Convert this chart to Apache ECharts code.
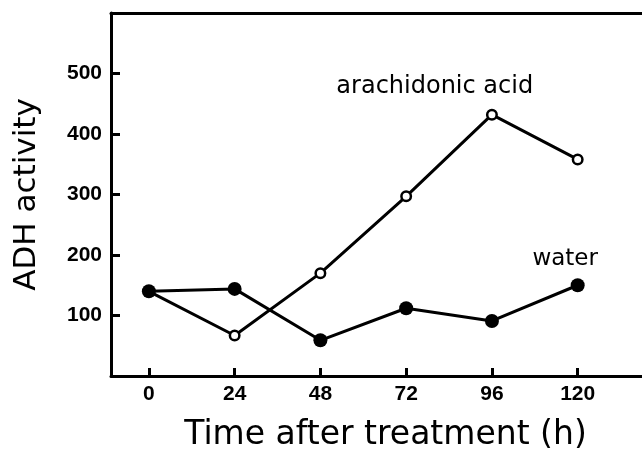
<!DOCTYPE html>
<html>
<head>
<meta charset="utf-8">
<title>ADH activity</title>
<script src="https://cdn.jsdelivr.net/npm/echarts@6/dist/echarts.min.js"></script>
<style>
	html, body { margin: 0; padding: 0; background: #fff; }
	#adhChart { width: 642px; height: 456px; }
</style>
</head>
<body>
<div id="adhChart"></div>
<script>
// hours after treatment
var hours = [0, 24, 48, 72, 96, 120];
// ADH activity, open circles
var arachidonic = [140, 67, 170, 297, 432, 358];
// ADH activity, filled circles
var water = [140, 144, 59, 112, 91, 150];
// ticks shown on the axes
var xTicks = [0, 24, 48, 72, 96, 120];
var yTicks = [100, 200, 300, 400, 500];
// where the two series names sit, in data units [h, activity]
var arachidonicLabelAt = [80, 478];
var waterLabelAt = [116.5, 194];

function pairs(xs, ys){
	var out = [];
	for(var i=0;i<xs.length;i++){
		out.push([xs[i], ys[i]]);
	}
	return out;
}

var charts = echarts.init(document.getElementById("adhChart"));
var xMin = -10.6, xMax = 138;
var tickFont = {
	fontFamily: 'Liberation Sans',
	fontWeight: 'bold',
	fontSize: 21,
	color: '#000'
};

var option = {
	backgroundColor: '#fff',
	animation: false,
	grid: {
		left: 111,
		right: 0,
		top: 13,
		bottom: 80,
		outerBoundsMode: 'none'//不让v6自动收缩绘图区
	},
	xAxis: [{
		type: 'value',
		min: xMin,
		max: xMax,
		name: 'Time after treatment (h)',
		nameLocation: 'middle',
		nameGap: 43,
		nameTextStyle: {
			fontFamily: 'DejaVu Sans',
			fontSize: 33,
			color: '#000',
			padding: [0, 0, 0, 18]
		},
		axisLine: { onZero: false, lineStyle: { color: '#000', width: 3 } },
		axisTick: { inside: true, length: 8, customValues: xTicks, lineStyle: { color: '#000', width: 3 } },
		axisLabel: Object.assign({ customValues: xTicks, margin: 8 }, tickFont),
		splitLine: { show: false }
	}, {
		// top edge of the frame only
		type: 'value',
		position: 'top',
		min: xMin,
		max: xMax,
		axisLine: { show: true, onZero: false, lineStyle: { color: '#000', width: 3 } },
		axisTick: { show: false },
		axisLabel: { show: false },
		splitLine: { show: false }
	}],
	yAxis: {
		type: 'value',
		min: 0,
		max: 600,
		name: 'ADH activity',
		nameLocation: 'middle',
		nameGap: 69,
		nameTextStyle: {
			fontFamily: 'DejaVu Sans',
			fontSize: 31,
			color: '#000'
		},
		axisLine: { show: true, onZero: false, lineStyle: { color: '#000', width: 3 } },
		axisTick: { show: true, inside: true, length: 9, customValues: yTicks, lineStyle: { color: '#000', width: 3 } },
		axisLabel: Object.assign({ customValues: yTicks, margin: 9 }, tickFont),
		splitLine: { show: false }
	},
	series: [{
		name: 'arachidonic acid',
		type: 'line',
		data: pairs(hours, arachidonic),
		symbol: 'circle',
		symbolSize: 9.5,
		lineStyle: { color: '#000', width: 3 },
		itemStyle: { color: '#fff', borderColor: '#000', borderWidth: 2.5 },
		z: 2
	}, {
		name: 'water',
		type: 'line',
		data: pairs(hours, water),
		symbol: 'circle',
		symbolSize: 14,
		lineStyle: { color: '#000', width: 3 },
		itemStyle: { color: '#000', borderColor: '#000', borderWidth: 0 },
		z: 3
	}]
};
charts.setOption(option);

// series names written next to the curves
var p1 = charts.convertToPixel({ gridIndex: 0 }, arachidonicLabelAt);
var p2 = charts.convertToPixel({ gridIndex: 0 }, waterLabelAt);
charts.setOption({
	graphic: [{
		type: 'text',
		x: p1[0], y: p1[1],
		style: {
			text: 'arachidonic acid',
			fontFamily: 'DejaVu Sans',
			fontSize: 24,
			fill: '#000',
			align: 'center',
			verticalAlign: 'middle'
		}
	}, {
		type: 'text',
		x: p2[0], y: p2[1],
		style: {
			text: 'water',
			fontFamily: 'DejaVu Sans',
			fontSize: 23,
			fill: '#000',
			align: 'center',
			verticalAlign: 'middle'
		}
	}]
});
</script>
</body>
</html>
